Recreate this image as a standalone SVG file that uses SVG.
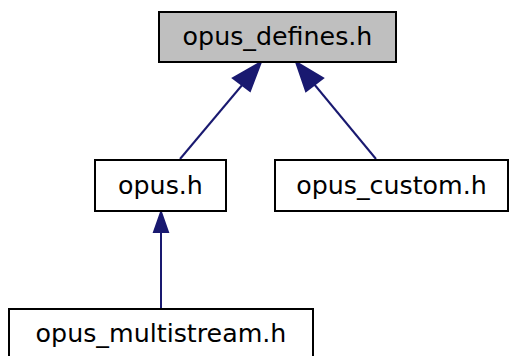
<svg xmlns="http://www.w3.org/2000/svg" width="509" height="356" viewBox="0 0 509 356">
<style>
.box{fill:#ffffff;stroke:#000000;stroke-width:2}
.root{fill:#bfbfbf}
.lbl{font-family:"DejaVu Sans",sans-serif;font-size:25.3px;fill:#000000;text-anchor:middle}
.edge{stroke:#191970;stroke-width:2;fill:none}
.head{fill:#191970;stroke:#191970;stroke-width:2}
</style>
<rect width="509" height="356" fill="#ffffff"/>
<g id="connectors">
<path class="edge" d="M180,159 L243,84"/>
<polygon class="head" points="261,62 233,78 250,91"/>
<path class="edge" d="M376,159 L314,84"/>
<polygon class="head" points="296,62 306,91 323,78"/>
<path class="edge" d="M161,309 L161,232"/>
<polygon class="head" points="161,212 154,232 168,232"/>
</g>
<g id="node_opus_defines">
<rect class="box root" x="159" y="12" width="237" height="50"/>
<text class="lbl" x="277.5" y="45">opus_defines.h</text>
</g>
<g id="node_opus">
<rect class="box" x="95" y="160" width="131" height="51"/>
<text class="lbl" x="160.5" y="193.5">opus.h</text>
</g>
<g id="node_opus_custom">
<rect class="box" x="275" y="160" width="233" height="51"/>
<text class="lbl" x="391.5" y="193.5">opus_custom.h</text>
</g>
<g id="node_opus_multistream">
<rect class="box" x="9" y="309" width="304" height="50"/>
<text class="lbl" x="161" y="342">opus_multistream.h</text>
</g>
</svg>
